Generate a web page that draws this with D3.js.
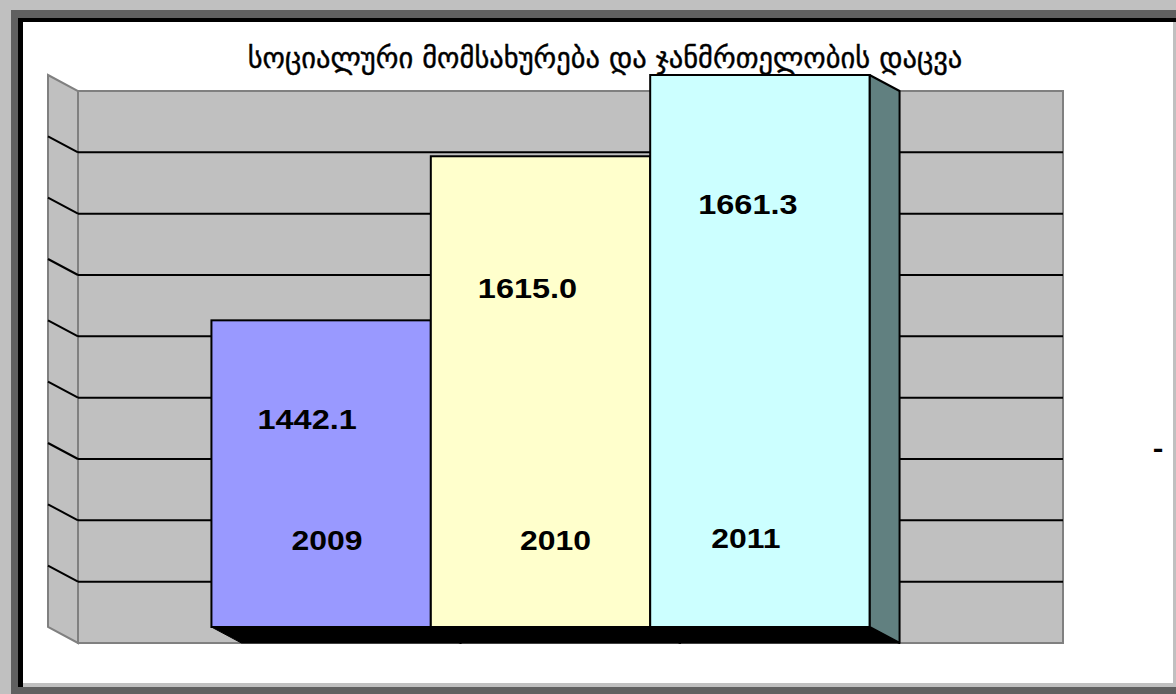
<!DOCTYPE html>
<html>
<head>
<meta charset="utf-8">
<script src="https://cdn.jsdelivr.net/npm/d3@7"></script>
<style>
  html, body { margin: 0; padding: 0; background: #fff; }
  svg { display: block; }
</style>
</head>
<body>
<div id="chart"></div>
<script>
// chart data
const title = "სოციალური მომსახურება და ჯანმრთელობის დაცვა";
const years = ["2009", "2010", "2011"];
// numbers printed on the bars
const labelValues = [1442.1, 1615.0, 1661.3];
const barValues = [1000, 1535, 1800];
const gridTicks = [0, 200, 400, 600, 800, 1000, 1200, 1400, 1600, 1800];
const stray = "-";

const barColors = ["#9999ff", "#ffffcc", "#ccffff"];

const W = 1176, H = 694;
const depth = { dx: 30, dy: 16 };

const svg = d3.select("#chart")
  .append("svg")
  .attr("width", W)
  .attr("height", H);

// frame
svg.append("rect").attr("width", W).attr("height", H).attr("fill", "#c0c0c0");
svg.append("rect").attr("x", 11).attr("y", 10).attr("width", W).attr("height", H).attr("fill", "#606060");
svg.append("rect").attr("x", 18).attr("y", 18).attr("width", 1158).attr("height", 669).attr("fill", "#000");
svg.append("rect").attr("x", 23).attr("y", 22).attr("width", 1153).attr("height", 665).attr("fill", "#c0c0c0");
svg.append("rect").attr("x", 23).attr("y", 22).attr("width", 1150).attr("height", 661).attr("fill", "#fff");

// scales (front plane)
const x = d3.scaleBand()
  .domain(years)
  .range([48, 1033])
  .paddingInner(0)
  .paddingOuter(0.745);

const y = d3.scaleLinear()
  .domain([0, d3.max(gridTicks)])
  .range([627, 75]);

const x0 = x.range()[0], x1 = x.range()[1];
const yTop = y(d3.max(gridTicks)), yBot = y(0);

// back wall
svg.append("rect")
  .attr("x", x0 + depth.dx)
  .attr("y", yTop + depth.dy)
  .attr("width", x1 - x0)
  .attr("height", yBot - yTop)
  .attr("fill", "#c0c0c0")
  .attr("stroke", "#808080")
  .attr("stroke-width", 2);

// left side wall
svg.append("polygon")
  .attr("points", [
    [x0, yTop], [x0 + depth.dx, yTop + depth.dy],
    [x0 + depth.dx, yBot + depth.dy], [x0, yBot]
  ].join(" "))
  .attr("fill", "#c0c0c0")
  .attr("stroke", "#808080")
  .attr("stroke-width", 2);

// gridlines (inner ticks only)
const inner = gridTicks.slice(1, -1);
svg.append("g").selectAll("line")
  .data(inner)
  .enter()
  .append("line")
  .attr("x1", x0 + depth.dx)
  .attr("x2", x1 + depth.dx)
  .attr("y1", d => y(d) + depth.dy)
  .attr("y2", d => y(d) + depth.dy)
  .attr("stroke", "#000")
  .attr("stroke-width", 2);

svg.append("g").selectAll("line")
  .data(inner)
  .enter()
  .append("line")
  .attr("x1", x0)
  .attr("x2", x0 + depth.dx)
  .attr("y1", d => y(d))
  .attr("y2", d => y(d) + depth.dy)
  .attr("stroke", "#000")
  .attr("stroke-width", 2);

// bars: right face, bottom face, front face
const bars = years.map((yr, i) => ({ year: yr, value: barValues[i], label: labelValues[i], color: barColors[i] }));

bars.forEach(d => {
  const bx = x(d.year), bw = x.bandwidth();
  const top = y(d.value);
  const g = svg.append("g");

  g.append("polygon")
    .attr("points", [
      [bx + bw, top], [bx + bw + depth.dx, top + depth.dy],
      [bx + bw + depth.dx, yBot + depth.dy], [bx + bw, yBot]
    ].join(" "))
    .attr("fill", "#618080")
    .attr("stroke", "#000")
    .attr("stroke-width", 2)
    .attr("stroke-linejoin", "round");

  g.append("polygon")
    .attr("points", [
      [bx, yBot], [bx + bw, yBot],
      [bx + bw + depth.dx, yBot + depth.dy], [bx + depth.dx, yBot + depth.dy]
    ].join(" "))
    .attr("fill", "#000")
    .attr("stroke", "#000")
    .attr("stroke-width", 1);

  g.append("rect")
    .attr("x", bx)
    .attr("y", top)
    .attr("width", bw)
    .attr("height", yBot - top)
    .attr("fill", d.color)
    .attr("stroke", "#000")
    .attr("stroke-width", 2);
});

// labels
const numFont = "'Liberation Sans', Arial, sans-serif";
const valueNudge = [[-14, 109], [-13, 142], [-12, 139]];
const yearNudge = [6, 15, -14];

svg.append("g").selectAll("text")
  .data(bars)
  .enter()
  .append("text")
  .attr("transform", (d, i) => "translate(" + (x(d.year) + x.bandwidth() / 2 + valueNudge[i][0]) + "," + (y(d.value) + valueNudge[i][1]) + ") scale(1.16,1)")
  .attr("text-anchor", "middle")
  .style("font-family", numFont)
  .style("font-weight", "bold")
  .style("font-size", "28px")
  .text(d => d3.format(".1f")(d.label));

svg.append("g").selectAll("text")
  .data(bars)
  .enter()
  .append("text")
  .attr("transform", (d, i) => "translate(" + (x(d.year) + x.bandwidth() / 2 + yearNudge[i]) + "," + (i === 2 ? 548 : 550) + ") scale(1.14,1)")
  .attr("text-anchor", "middle")
  .style("font-family", numFont)
  .style("font-weight", "bold")
  .style("font-size", "28px")
  .text(d => d.year);

svg.append("text")
  .attr("transform", "translate(1158,458) scale(1.14,1)")
  .attr("text-anchor", "middle")
  .style("font-family", numFont)
  .style("font-weight", "bold")
  .style("font-size", "28px")
  .text(stray);

// title
svg.append("text")
  .attr("x", 605)
  .attr("y", 68)
  .attr("text-anchor", "middle")
  .style("font-family", "'DejaVu Sans', sans-serif")
  .style("font-size", "28.5px")
  .style("stroke", "#000")
  .style("stroke-width", 0.4)
  .text(title);
</script>
</body>
</html>
